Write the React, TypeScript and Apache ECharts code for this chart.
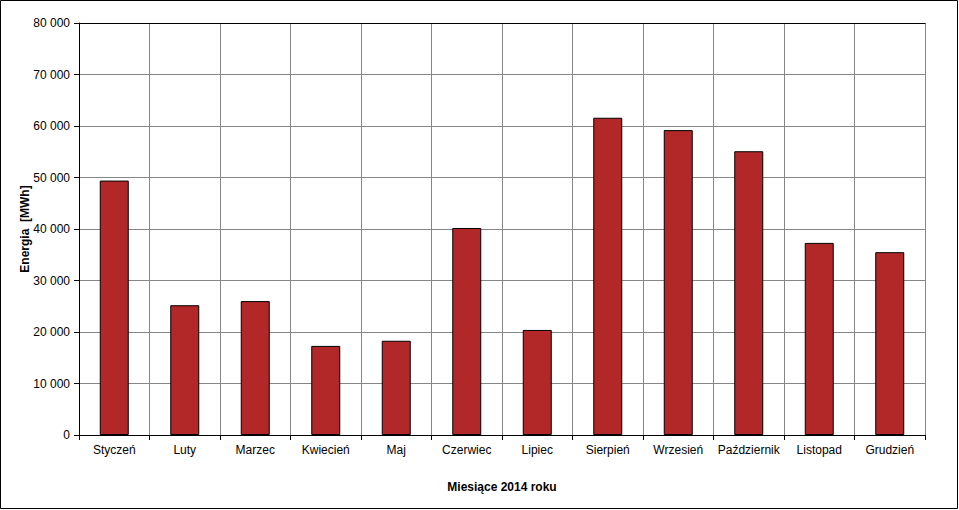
import React, { useEffect, useRef } from "react";
import * as echarts from "echarts";

const months = ["Styczeń", "Luty", "Marzec", "Kwiecień", "Maj", "Czerwiec", "Lipiec", "Sierpień", "Wrzesień", "Październik", "Listopad", "Grudzień"];
const energy = [49400, 25200, 26000, 17300, 18300, 40200, 20400, 61600, 59200, 55100, 37300, 35500];
const yTicks = { min: 0, max: 80000, interval: 10000 };

const fmt = (v: number) => String(v).replace(/\B(?=(\d{3})+(?!\d))/g, " ");

export default function App() {
  const ref = useRef<HTMLDivElement>(null);
  useEffect(() => {
    document.body.style.margin = "0";
    const chart = echarts.init(ref.current!, null, { renderer: "svg" });
    const font = "'Liberation Sans', Arial, sans-serif";
    chart.setOption({
      animation: false,
      backgroundColor: "#fff",
      textStyle: { fontFamily: font },
      grid: { left: 79, right: 34, top: 23, bottom: 75, containLabel: false },
      xAxis: [
        {
          type: "category",
          data: months,
          boundaryGap: true,
          axisLine: { lineStyle: { color: "#000", width: 1 } },
          axisTick: { show: true, interval: 0, length: 5, lineStyle: { color: "#000" } },
          axisLabel: { interval: 0, color: "#000", fontSize: 12, fontFamily: font, margin: 9 },
          splitLine: { show: true, interval: 0, lineStyle: { color: "#868686", width: 1 } },
          name: "Miesiące 2014 roku",
          nameLocation: "middle",
          nameGap: 46,
          nameMoveOverlap: false,
          nameTextStyle: { color: "#000", fontWeight: "bold", fontSize: 12, fontFamily: font },
        },
        {
          type: "category",
          position: "top",
          data: months,
          axisLine: { show: true, lineStyle: { color: "#000", width: 1 } },
          axisTick: { show: false },
          axisLabel: { show: false },
          splitLine: { show: false },
        },
      ],
      yAxis: {
        type: "value",
        min: yTicks.min,
        max: yTicks.max,
        interval: yTicks.interval,
        axisLine: { show: true, lineStyle: { color: "#000" } },
        axisTick: { show: true, length: 5, lineStyle: { color: "#000" } },
        axisLabel: { color: "#000", fontSize: 12, fontFamily: font, margin: 9, formatter: (v: number) => fmt(v) },
        splitLine: { show: true, lineStyle: { color: "#868686", width: 1 } },
        name: "Energia  [MWh]",
        nameLocation: "middle",
        nameGap: 48,
        nameRotate: 90,
        nameMoveOverlap: false,
        nameTextStyle: { color: "#000", fontWeight: "bold", fontSize: 12, fontFamily: font },
      },
      series: [
        {
          type: "bar",
          data: energy,
          barWidth: 29,
          itemStyle: { color: "#B22828", borderColor: "#000", borderWidth: 1 },
        },
      ],
      graphic: [
        {
          type: "rect",
          shape: { x: 0.5, y: 0.5, width: 957, height: 508 },
          style: { fill: "none", stroke: "#000", lineWidth: 1 },
          silent: true,
        },
      ],
    });
    return () => chart.dispose();
  }, []);
  return <div ref={ref} style={{ width: 959, height: 510 }} />;
}
